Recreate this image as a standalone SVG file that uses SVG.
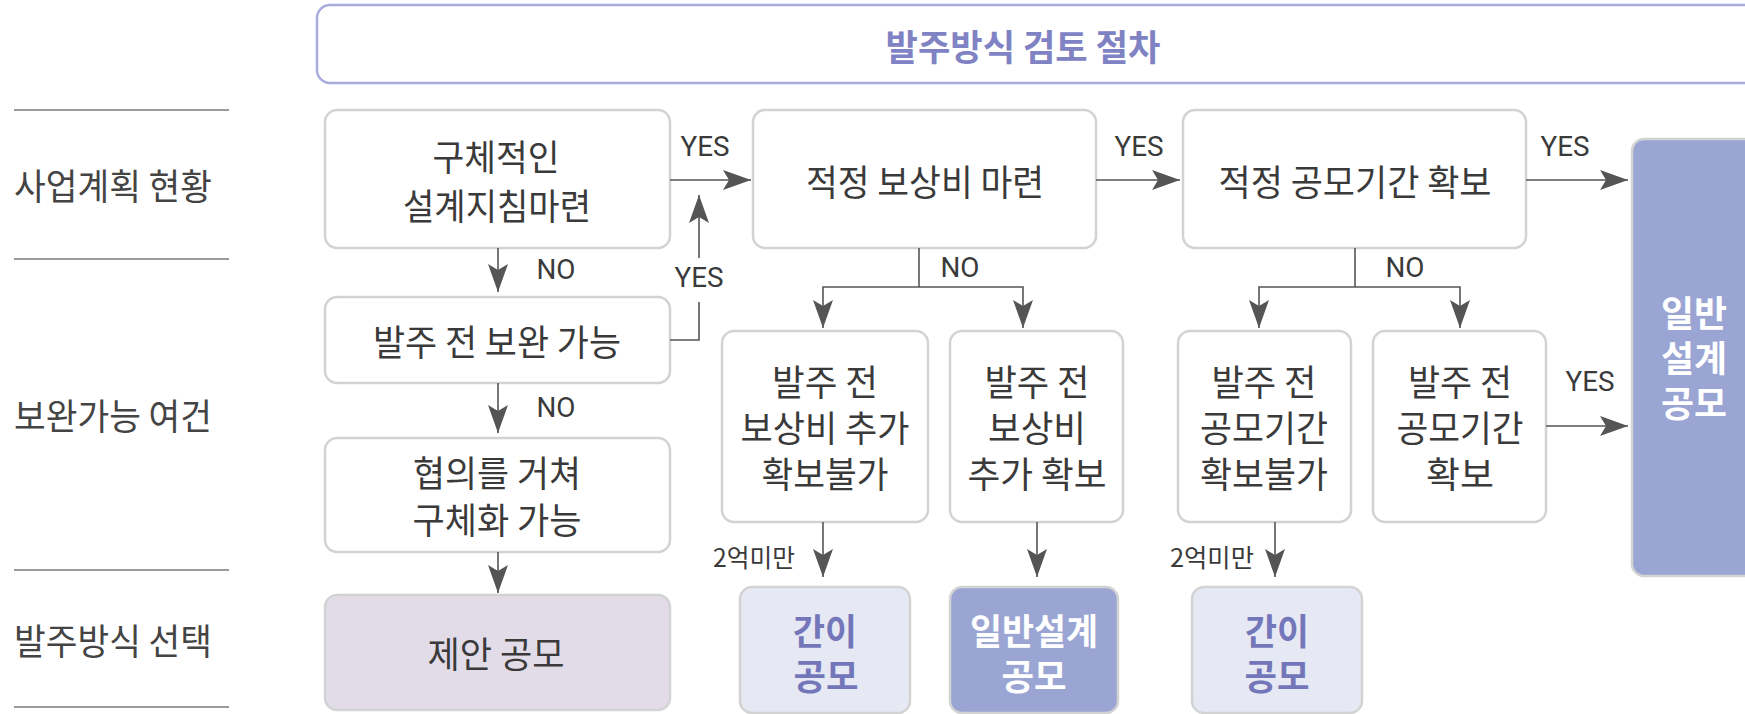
<svg xmlns="http://www.w3.org/2000/svg" width="1745" height="714" viewBox="0 0 1745 714">
<style>
.box{fill:#fff;stroke:#d3d3d3;stroke-width:2.5}
.t{font-family:"Noto Sans CJK KR","Noto Sans",sans-serif;font-size:36px;fill:#3a3a3a;text-anchor:middle;dominant-baseline:central}
.side{font-family:"Noto Sans CJK KR","Noto Sans",sans-serif;font-size:36px;fill:#444;dominant-baseline:central}
.res{font-family:"Noto Sans CJK KR","Noto Sans",sans-serif;font-size:36px;font-weight:bold;text-anchor:middle;dominant-baseline:central}
.lbl{font-family:Roboto,"Liberation Sans",sans-serif;font-size:27px;fill:#3a3a3a;text-anchor:middle;dominant-baseline:central}
.small{font-family:"Noto Sans CJK KR","Noto Sans",sans-serif;font-size:25px;fill:#3a3a3a;text-anchor:middle;dominant-baseline:central}
.conn path{stroke:#555;stroke-width:1.6;fill:none}
.rule{stroke:#7a7a7a;stroke-width:1.5}
</style>
<defs>
<marker id="ah" markerUnits="userSpaceOnUse" markerWidth="28" markerHeight="20" refX="28" refY="10" orient="auto"><path d="M0,0 L28,10 L0,20 L6,10 Z" fill="#555"/></marker>
</defs>
<rect width="1745" height="714" fill="#fff"/>

<g id="title">
<rect x="317" y="5" width="1480" height="78" rx="13" fill="#fff" stroke="#aaaddb" stroke-width="2.5"/>
<text x="1023" y="45" class="t" style="font-weight:bold;fill:#7f83c4" textLength="275" lengthAdjust="spacingAndGlyphs">발주방식 검토 절차</text>
</g>

<g id="side-labels">
<line class="rule" x1="14" y1="110" x2="229" y2="110"/>
<line class="rule" x1="14" y1="259" x2="229" y2="259"/>
<line class="rule" x1="14" y1="570" x2="229" y2="570"/>
<line class="rule" x1="14" y1="707" x2="229" y2="707"/>
<text class="side" x="14" y="184" textLength="198" lengthAdjust="spacingAndGlyphs">사업계획 현황</text>
<text class="side" x="14" y="414" textLength="198" lengthAdjust="spacingAndGlyphs">보완가능 여건</text>
<text class="side" x="14" y="639" textLength="198" lengthAdjust="spacingAndGlyphs">발주방식 선택</text>
</g>

<g id="n1">
<rect class="box" x="325" y="110" width="345" height="138" rx="12"/>
<text class="t" x="496" y="155" textLength="127" lengthAdjust="spacingAndGlyphs">구체적인</text>
<text class="t" x="497" y="204" textLength="188" lengthAdjust="spacingAndGlyphs">설계지침마련</text>
</g>
<g id="n2">
<rect class="box" x="325" y="297" width="345" height="86" rx="12"/>
<text class="t" x="497" y="340" textLength="248" lengthAdjust="spacingAndGlyphs">발주 전 보완 가능</text>
</g>
<g id="n3">
<rect class="box" x="325" y="438" width="345" height="114" rx="12"/>
<text class="t" x="497" y="471" textLength="168" lengthAdjust="spacingAndGlyphs">협의를 거쳐</text>
<text class="t" x="497" y="518" textLength="169" lengthAdjust="spacingAndGlyphs">구체화 가능</text>
</g>
<g id="n4">
<rect class="box" x="325" y="595" width="345" height="115" rx="12" style="fill:#e1dce8"/>
<text class="t" x="496" y="652" textLength="137" lengthAdjust="spacingAndGlyphs">제안 공모</text>
</g>
<g id="n5">
<rect class="box" x="753" y="110" width="343" height="138" rx="12"/>
<text class="t" x="925" y="180" textLength="238" lengthAdjust="spacingAndGlyphs">적정 보상비 마련</text>
</g>
<g id="n6">
<rect class="box" x="1183" y="110" width="343" height="138" rx="12"/>
<text class="t" x="1355" y="180" textLength="273" lengthAdjust="spacingAndGlyphs">적정 공모기간 확보</text>
</g>
<g id="n7">
<rect class="box" x="722" y="331" width="206" height="191" rx="12"/>
<text class="t" x="825" y="380" textLength="106" lengthAdjust="spacingAndGlyphs">발주 전</text>
<text class="t" x="825" y="426" textLength="169" lengthAdjust="spacingAndGlyphs">보상비 추가</text>
<text class="t" x="825" y="472" textLength="127" lengthAdjust="spacingAndGlyphs">확보불가</text>
</g>
<g id="n8">
<rect class="box" x="950" y="331" width="173" height="191" rx="12"/>
<text class="t" x="1037" y="380" textLength="105" lengthAdjust="spacingAndGlyphs">발주 전</text>
<text class="t" x="1037" y="426" textLength="98" lengthAdjust="spacingAndGlyphs">보상비</text>
<text class="t" x="1037" y="472" textLength="139" lengthAdjust="spacingAndGlyphs">추가 확보</text>
</g>
<g id="n9">
<rect class="box" x="1178" y="331" width="173" height="191" rx="12"/>
<text class="t" x="1264" y="380" textLength="105" lengthAdjust="spacingAndGlyphs">발주 전</text>
<text class="t" x="1264" y="426" textLength="128" lengthAdjust="spacingAndGlyphs">공모기간</text>
<text class="t" x="1264" y="472" textLength="128" lengthAdjust="spacingAndGlyphs">확보불가</text>
</g>
<g id="n10">
<rect class="box" x="1373" y="331" width="173" height="191" rx="12"/>
<text class="t" x="1460" y="380" textLength="104" lengthAdjust="spacingAndGlyphs">발주 전</text>
<text class="t" x="1460" y="426" textLength="127" lengthAdjust="spacingAndGlyphs">공모기간</text>
<text class="t" x="1460" y="472" textLength="68" lengthAdjust="spacingAndGlyphs">확보</text>
</g>
<g id="n11">
<rect class="box" x="740" y="587" width="170" height="126" rx="12" style="fill:#e6e8f4"/>
<text class="res" x="825" y="629" fill="#7377b9" textLength="64" lengthAdjust="spacingAndGlyphs">간이</text>
<text class="res" x="826" y="674" fill="#7377b9" textLength="65" lengthAdjust="spacingAndGlyphs">공모</text>
</g>
<g id="n12">
<rect class="box" x="950" y="587" width="168" height="126" rx="12" style="fill:#9aa5d3"/>
<text class="res" x="1034" y="629" fill="#fff" textLength="128" lengthAdjust="spacingAndGlyphs">일반설계</text>
<text class="res" x="1034" y="674" fill="#fff" textLength="65" lengthAdjust="spacingAndGlyphs">공모</text>
</g>
<g id="n13">
<rect class="box" x="1192" y="587" width="170" height="126" rx="12" style="fill:#e6e8f4"/>
<text class="res" x="1277" y="629" fill="#7377b9" textLength="64" lengthAdjust="spacingAndGlyphs">간이</text>
<text class="res" x="1277" y="674" fill="#7377b9" textLength="65" lengthAdjust="spacingAndGlyphs">공모</text>
</g>
<g id="n14">
<rect class="box" x="1632" y="139" width="140" height="437" rx="12" style="fill:#9aa5d3"/>
<text class="res" x="1694" y="311" fill="#fff" textLength="66" lengthAdjust="spacingAndGlyphs">일반</text>
<text class="res" x="1694" y="356" fill="#fff" textLength="66" lengthAdjust="spacingAndGlyphs">설계</text>
<text class="res" x="1694" y="401" fill="#fff" textLength="66" lengthAdjust="spacingAndGlyphs">공모</text>
</g>

<g id="connectors" class="conn">
<path d="M670,180 H751" marker-end="url(#ah)"/>
<path d="M670,340 H699 V302"/>
<path d="M699,258 V195" marker-end="url(#ah)"/>
<path d="M498,248 V292" marker-end="url(#ah)"/>
<path d="M498,383 V433" marker-end="url(#ah)"/>
<path d="M498,552 V593" marker-end="url(#ah)"/>
<path d="M1096,180 H1180" marker-end="url(#ah)"/>
<path d="M1526,180 H1628" marker-end="url(#ah)"/>
<path d="M919,248 V287"/>
<path d="M919,287 H823 V328" marker-end="url(#ah)"/>
<path d="M919,287 H1023 V328" marker-end="url(#ah)"/>
<path d="M1355,248 V287"/>
<path d="M1355,287 H1259 V328" marker-end="url(#ah)"/>
<path d="M1355,287 H1460 V328" marker-end="url(#ah)"/>
<path d="M823,522 V577" marker-end="url(#ah)"/>
<path d="M1037,522 V577" marker-end="url(#ah)"/>
<path d="M1275,522 V577" marker-end="url(#ah)"/>
<path d="M1546,426 H1628" marker-end="url(#ah)"/>
<text class="lbl" x="705" y="147" textLength="49" lengthAdjust="spacingAndGlyphs">YES</text>
<text class="lbl" x="699" y="278" textLength="49" lengthAdjust="spacingAndGlyphs">YES</text>
<text class="lbl" x="1139" y="147" textLength="49" lengthAdjust="spacingAndGlyphs">YES</text>
<text class="lbl" x="1565" y="147" textLength="49" lengthAdjust="spacingAndGlyphs">YES</text>
<text class="lbl" x="1590" y="382" textLength="49" lengthAdjust="spacingAndGlyphs">YES</text>
<text class="lbl" x="556" y="270" textLength="39" lengthAdjust="spacingAndGlyphs">NO</text>
<text class="lbl" x="556" y="408" textLength="39" lengthAdjust="spacingAndGlyphs">NO</text>
<text class="lbl" x="960" y="268" textLength="39" lengthAdjust="spacingAndGlyphs">NO</text>
<text class="lbl" x="1405" y="268" textLength="39" lengthAdjust="spacingAndGlyphs">NO</text>
<text class="small" x="754" y="556" textLength="82" lengthAdjust="spacingAndGlyphs">2억미만</text>
<text class="small" x="1212" y="556" textLength="84" lengthAdjust="spacingAndGlyphs">2억미만</text>
</g>
</svg>
